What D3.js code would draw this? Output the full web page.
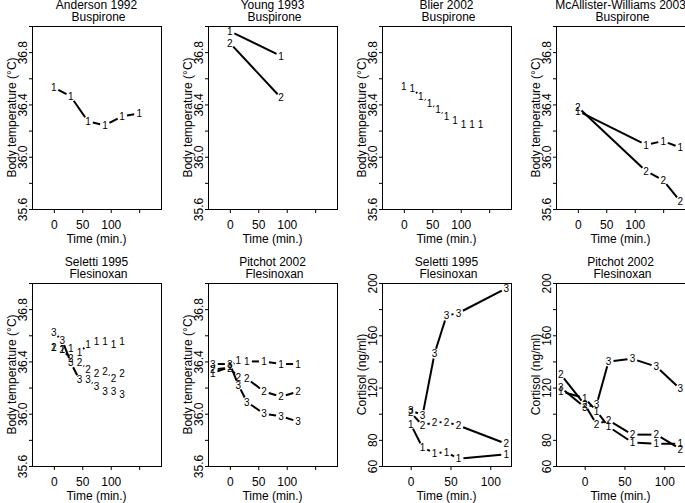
<!DOCTYPE html>
<html>
<head>
<meta charset="utf-8">
<script src="https://cdn.jsdelivr.net/npm/d3@7"></script>
<style>
  body { margin: 0; background: #fff; }
  svg { display: block; font-family: "Liberation Sans", Arial, sans-serif; }
</style>
</head>
<body>
<svg id="chart" width="685" height="503"></svg>
<script>
// data (time in min., temperature in °C, cortisol in ng/ml)
const andersonTime = [0, 30, 60, 90, 120, 150];
const andersonS1 = [36.53, 36.46, 36.27, 36.24, 36.31, 36.33];

const youngTime = [0, 90];
const youngS1 = [36.96, 36.77];
const youngS2 = [36.87, 36.45];

const blierTime = [0, 15, 30, 45, 60, 75, 90, 105, 120, 135];
const blierS1 = [36.54, 36.52, 36.46, 36.41, 36.36, 36.31, 36.28, 36.25, 36.25, 36.25];

const mcallisterTime = [0, 120, 150, 180];
const mcallisterS1 = [36.35, 36.09, 36.12, 36.07];
const mcallisterS2 = [36.38, 35.89, 35.82, 35.66];

const selettiTempTime = [0, 15, 30, 45, 60, 75, 90, 105, 120];
const selettiTempS1 = [36.51, 36.49, 36.50, 36.47, 36.53, 36.55, 36.55, 36.53, 36.55];
const selettiTempS2 = [36.51, 36.49, 36.42, 36.39, 36.34, 36.31, 36.32, 36.27, 36.31];
const selettiTempS3 = [36.62, 36.56, 36.39, 36.26, 36.26, 36.21, 36.17, 36.17, 36.15];

const pitchotTempTime = [-30, 0, 15, 30, 60, 90, 120];
const pitchotTempS1 = [36.31, 36.36, 36.41, 36.40, 36.40, 36.38, 36.38];
const pitchotTempS2 = [36.34, 36.35, 36.28, 36.27, 36.17, 36.13, 36.17];
const pitchotTempS3 = [36.38, 36.38, 36.22, 36.09, 36.00, 35.98, 35.94];

const selettiCortTime = [0, 15, 30, 45, 60, 120];
const selettiCortS1 = [92, 74, 70, 70.5, 65.5, 69];
const selettiCortS2 = [101, 91, 93.5, 93.5, 91, 77];
const selettiCortS3 = [102.5, 99, 146, 175, 177, 196];

const pitchotCortTime = [-30, 0, 15, 30, 60, 90, 120];
const pitchotCortS1 = [117, 112, 102, 90, 78, 77, 77];
const pitchotCortS2 = [130, 107, 92, 95, 84, 84, 73];
const pitchotCortS3 = [120, 105, 107, 140, 142, 136, 119];

// axis ticks and labels
const tempTicks = [35.6, 35.8, 36.0, 36.2, 36.4, 36.6, 36.8, 37.0];
const tempTickLabels = ["35.6", "", "36.0", "", "36.4", "", "36.8", ""];
const cortTicks = [60, 80, 100, 120, 140, 160, 180, 200];
const cortTickLabels = ["60", "80", "", "120", "", "160", "", "200"];
const longTimeTicks = [0, 50, 100, 150];
const longTimeLabels = ["0", "50", "100", ""];
const shortTimeTicks = [0, 50, 100];
const shortTimeLabels = ["0", "50", "100"];

const panels = [
  { title: "Anderson 1992", drug: "Buspirone", kind: "temp", time: andersonTime, series: [andersonS1] },
  { title: "Young 1993", drug: "Buspirone", kind: "temp", time: youngTime, series: [youngS1, youngS2] },
  { title: "Blier 2002", drug: "Buspirone", kind: "temp", time: blierTime, series: [blierS1] },
  { title: "McAllister-Williams 2003", drug: "Buspirone", kind: "temp", time: mcallisterTime, series: [mcallisterS1, mcallisterS2] },
  { title: "Seletti 1995", drug: "Flesinoxan", kind: "temp", time: selettiTempTime, series: [selettiTempS1, selettiTempS2, selettiTempS3] },
  { title: "Pitchot 2002", drug: "Flesinoxan", kind: "temp", time: pitchotTempTime, series: [pitchotTempS1, pitchotTempS2, pitchotTempS3] },
  { title: "Seletti 1995", drug: "Flesinoxan", kind: "cort", time: selettiCortTime, series: [selettiCortS1, selettiCortS2, selettiCortS3] },
  { title: "Pitchot 2002", drug: "Flesinoxan", kind: "cort", time: pitchotCortTime, series: [pitchotCortS1, pitchotCortS2, pitchotCortS3] }
];

const svg = d3.select("#chart");
const colLeft = [32, 208, 382, 556];
const rowTop = [26, 283];
const pw = 129, ph = 183;
const gap = 5; // R type="b" gap around the symbols

panels.forEach((p, i) => {
  const left = colLeft[i % 4], top = rowTop[Math.floor(i / 4)];
  const g = svg.append("g").attr("transform", `translate(${left},${top})`);

  const x = d3.scaleLinear()
    .domain(p.kind === "cort" ? [-36, 126] : [-38.4, 188.4])
    .range([0, pw]);
  const y = d3.scaleLinear()
    .domain(p.kind === "cort" ? [60, 200] : [35.6, 37.0])
    .range([ph, 0]);

  const xt = p.kind === "cort" ? shortTimeTicks : longTimeTicks;
  const xl = p.kind === "cort" ? shortTimeLabels : longTimeLabels;
  const yt = p.kind === "cort" ? cortTicks : tempTicks;
  const yl = p.kind === "cort" ? cortTickLabels : tempTickLabels;

  // x axis
  const gx = g.append("g").attr("transform", `translate(0,${ph})`)
    .call(d3.axisBottom(x).tickValues(xt).tickSize(4)
      .tickFormat((d, k) => xl[k]));
  gx.select(".domain").remove();
  gx.selectAll("line").attr("stroke", "#000");
  gx.selectAll("text").attr("y", 20).attr("dy", null)
    .attr("font-size", 12).attr("font-family", null).attr("fill", "#000");

  // y axis, labels parallel to the axis
  const gy = g.append("g")
    .call(d3.axisLeft(y).tickValues(yt).tickSize(3)
      .tickFormat((d, k) => yl[k]));
  gy.select(".domain").remove();
  gy.selectAll("line").attr("stroke", "#000");
  gy.selectAll("text").attr("transform", "rotate(-90)")
    .attr("x", 0).attr("y", -5).attr("dy", null)
    .attr("text-anchor", "middle")
    .attr("font-size", 12).attr("font-family", null).attr("fill", "#000");

  // frame
  g.append("rect").attr("x", 0.5).attr("y", 0.5)
    .attr("width", pw).attr("height", ph)
    .attr("fill", "none").attr("stroke", "#000");

  // titles
  g.append("text").attr("x", pw / 2).attr("y", -17)
    .attr("text-anchor", "middle").attr("font-size", 12).text(p.title);
  g.append("text").attr("x", pw / 2 + 2).attr("y", -5)
    .attr("text-anchor", "middle").attr("font-size", 12).text(p.drug);

  g.append("text").attr("x", pw / 2).attr("y", ph + 34)
    .attr("text-anchor", "middle").attr("font-size", 12).text("Time (min.)");
  g.append("text")
    .attr("transform", `translate(-16,${ph / 2}) rotate(-90)`)
    .attr("text-anchor", "middle").attr("font-size", 12)
    .text(p.kind === "cort" ? "Cortisol (ng/ml)" : "Body temperature (°C)");

  // series: lines with gaps around numbered points
  p.series.forEach((vals, s) => {
    const pts = p.time.map((t, k) => [x(t), y(vals[k])]);
    for (let k = 0; k < pts.length - 1; k++) {
      const [x0, y0] = pts[k], [x1, y1] = pts[k + 1];
      const len = Math.hypot(x1 - x0, y1 - y0);
      if (len <= 2 * gap) continue;
      const ux = (x1 - x0) / len, uy = (y1 - y0) / len;
      g.append("line")
        .attr("x1", x0 + ux * gap).attr("y1", y0 + uy * gap)
        .attr("x2", x1 - ux * gap).attr("y2", y1 - uy * gap)
        .attr("stroke", "#000").attr("stroke-width", 2);
    }
    g.selectAll(null).data(pts).enter().append("text")
      .attr("x", d => d[0]).attr("y", d => d[1]).attr("dy", "0.36em")
      .attr("text-anchor", "middle").attr("font-size", 10)
      .text(String(s + 1));
  });
});
</script>
</body>
</html>
